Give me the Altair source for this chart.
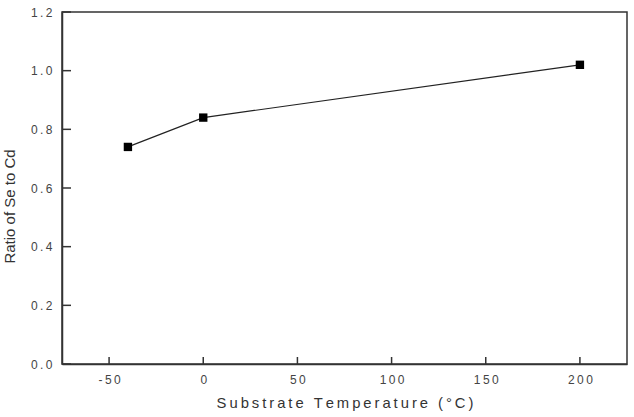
import altair as alt
import pandas as pd

temps = [-40, 0, 200]
ratios = [0.74, 0.84, 1.02]
x_ticks = [-50, 0, 50, 100, 150, 200]
y_ticks = [0.0, 0.2, 0.4, 0.6, 0.8, 1.0, 1.2]
x_title = "Substrate Temperature (°C)"
y_title = "Ratio of Se to Cd"

df = pd.DataFrame({"T": temps, "R": ratios})
xt = pd.DataFrame({"T": x_ticks})
yt = pd.DataFrame({"R": y_ticks})

FONT = "Liberation Sans"
THIN = "\u2009"
x_title_spaced = THIN.join(list(x_title))

xscale = alt.Scale(domain=[-75, 225], nice=False, zero=False)
yscale = alt.Scale(domain=[0, 1.2], nice=False, zero=False)

x_label_expr = ("join(split((datum.value < 0 ? '-' : '') + format(abs(datum.value), 'd'), ''), '"
                + THIN + "')")
y_label_expr = "join(split(format(datum.value, '.1f'), ''), '" + THIN + "')"

xaxis = alt.Axis(values=x_ticks, tickSize=0, labelPadding=10, labelFontSize=12,
                 labelColor="#444", labelFont=FONT, domainColor="#333", domainWidth=1.5,
                 grid=False, title=x_title_spaced, titleFont=FONT,
                 titleFontSize=14.8, titleFontWeight="normal", titleColor="#333",
                 titlePadding=10, labelExpr=x_label_expr)
yaxis = alt.Axis(values=y_ticks, tickSize=0, labelPadding=10, labelFontSize=12,
                 labelColor="#444", labelFont=FONT, domainColor="#333", domainWidth=1.5,
                 grid=False, title=y_title, titleFont=FONT,
                 titleFontSize=15, titleFontWeight="normal", titleColor="#333",
                 titlePadding=13, titleY=194, labelExpr=y_label_expr)

base = alt.Chart(df)
line = base.mark_line(color="#222", strokeWidth=1.2).encode(
    x=alt.X("T:Q", scale=xscale, axis=xaxis),
    y=alt.Y("R:Q", scale=yscale, axis=yaxis),
)
pts = base.mark_point(shape="square", filled=True, color="black", size=70, opacity=1).encode(
    x=alt.X("T:Q", scale=xscale),
    y=alt.Y("R:Q", scale=yscale),
)
xtick = alt.Chart(xt).mark_rule(color="#333", strokeWidth=1.5).encode(
    x=alt.X("T:Q", scale=xscale),
    y=alt.value(352), y2=alt.value(345),
)
ytick = alt.Chart(yt).mark_rule(color="#333", strokeWidth=1.5).encode(
    y=alt.Y("R:Q", scale=yscale),
    x=alt.value(0), x2=alt.value(9),
)

chart = alt.layer(line, pts, xtick, ytick).properties(
    width=565, height=352,
    background="white",
    autosize=alt.AutoSizeParams(type="none"),
    padding={"left": 62, "top": 12, "right": 7, "bottom": 53},
).configure_view(stroke="#333", strokeWidth=1.5)

chart.save("out.html", embed_options={"renderer": "svg", "actions": False})
